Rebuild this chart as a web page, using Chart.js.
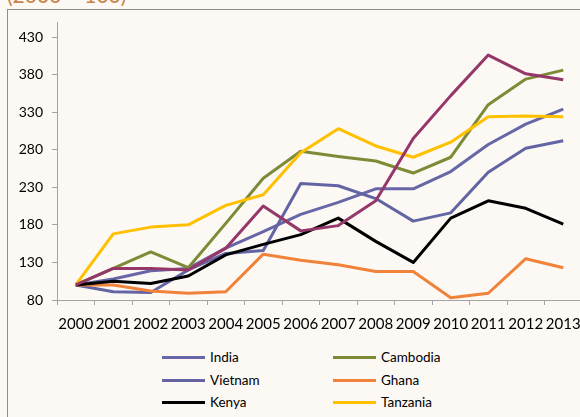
<!DOCTYPE html>
<html>
<head>
<meta charset="utf-8">
<script src="https://cdn.jsdelivr.net/npm/chart.js@4.4.1/dist/chart.umd.min.js"></script>
<style>
  html, body { margin: 0; padding: 0; }
  body {
    width: 580px; height: 417px; overflow: hidden; position: relative;
    background: #FCF8F4; font-family: Lato, "Open Sans", sans-serif;
  }
  #frame {
    position: absolute; left: 7px; top: 9px; width: 640px; height: 460px;
    border-left: 1px solid #8E8E8E; border-top: 1px solid #8E8E8E;
  }
  #title {
    position: absolute; left: 7px; top: -16.5px; font-size: 21px; line-height: 21px;
    color: #C8834A; white-space: pre;
  }
  #chart { position: absolute; left: 0; top: 0; }
  .sw { position: absolute; width: 43px; height: 3px; }
  .lbl { position: absolute; font-size: 13.5px; line-height: 16px; color: #000; white-space: pre; }
</style>
</head>
<body>
<div id="frame"></div>
<div id="title">(2000 = 100)</div>
<canvas id="chart" width="600" height="335"></canvas>
<div id="legend"></div>
<script>
// Index values, year 2000 = 100
const years = ['2000','2001','2002','2003','2004','2005','2006','2007','2008','2009','2010','2011','2012','2013'];
const yTicks = [80, 130, 180, 230, 280, 330, 380, 430];

const india    = [100, 108, 119, 122, 149, 171, 194, 210, 228, 228, 251, 287, 314, 334];
const cambodia = [100, 122, 144, 123, 182, 242, 278, 271, 265, 249, 270, 340, 374, 386];
const vietnam  = [100,  91,  90, 120, 142, 146, 235, 232, 215, 185, 196, 250, 282, 292];
const ghana    = [100, 100,  92,  89,  91, 141, 133, 127, 118, 118,  83,  89, 135, 123];
const kenya    = [100, 105, 102, 112, 140, 154, 167, 189, 158, 130, 189, 212, 202, 181];
const tanzania = [100, 168, 177, 180, 206, 220, 276, 308, 285, 270, 290, 324, 325, 324];
const seventh  = [100, 122, 122, 120, 149, 205, 172, 179, 212, 295, 352, 406, 381, 373];

const seriesNames  = ['India', 'Cambodia', 'Vietnam', 'Ghana', 'Kenya', 'Tanzania', ''];
const seriesData   = [india, cambodia, vietnam, ghana, kenya, tanzania, seventh];
const seriesColors = ['#6767A7', '#7D8A36', '#6264A4', '#F0823A', '#000000', '#FFC000', '#953869'];

Chart.defaults.font.family = 'Lato, "Open Sans", sans-serif';
Chart.defaults.color = '#000';

const axisGrey = '#A3A3A3';

const datasets = seriesData.map((d, i) => ({
  label: seriesNames[i],
  data: d,
  borderColor: seriesColors[i],
  backgroundColor: seriesColors[i],
  borderWidth: 3,
  pointRadius: 0,
  tension: 0,
  borderJoinStyle: 'round',
  fill: false,
  order: -i
}));

new Chart(document.getElementById('chart'), {
  type: 'line',
  data: { labels: years, datasets },
  options: {
    responsive: false,
    animation: false,
    devicePixelRatio: 1,
    layout: { padding: { top: 22, right: 18, left: 0, bottom: 0 } },
    plugins: { legend: { display: false }, tooltip: { enabled: false }, title: { display: false } },
    scales: {
      x: {
        offset: true,
        grid: { offset: true, drawOnChartArea: false, drawTicks: true, tickLength: 5, color: axisGrey },
        border: { display: true, color: axisGrey, width: 1 },
        ticks: { padding: 10, maxRotation: 0, autoSkip: false, font: { size: 15 } },
        afterFit(s) { s.height = 35; }
      },
      y: {
        min: 80, max: 450,
        grid: { drawOnChartArea: false, drawTicks: true, tickLength: 5, color: axisGrey },
        border: { display: true, color: axisGrey, width: 1 },
        ticks: { padding: 9, font: { size: 14 } },
        afterBuildTicks(s) { s.ticks = yTicks.map(v => ({ value: v })); },
        afterFit(s) { s.width = 57; }
      }
    }
  }
});

// Two-column legend, filled row by row
const legend = document.getElementById('legend');
const colX = [162, 333];
const rowY = [357, 380, 402];
seriesNames.forEach((name, i) => {
  if (!name) return;
  const x = colX[i % 2], y = rowY[Math.floor(i / 2)];
  const sw = document.createElement('div');
  sw.className = 'sw';
  sw.style.left = x + 'px';
  sw.style.top = (y - 1.5) + 'px';
  sw.style.background = seriesColors[i];
  legend.appendChild(sw);
  const t = document.createElement('div');
  t.className = 'lbl';
  t.textContent = name;
  t.style.left = (x + 48) + 'px';
  t.style.top = (y - 8) + 'px';
  legend.appendChild(t);
});
</script>
</body>
</html>
